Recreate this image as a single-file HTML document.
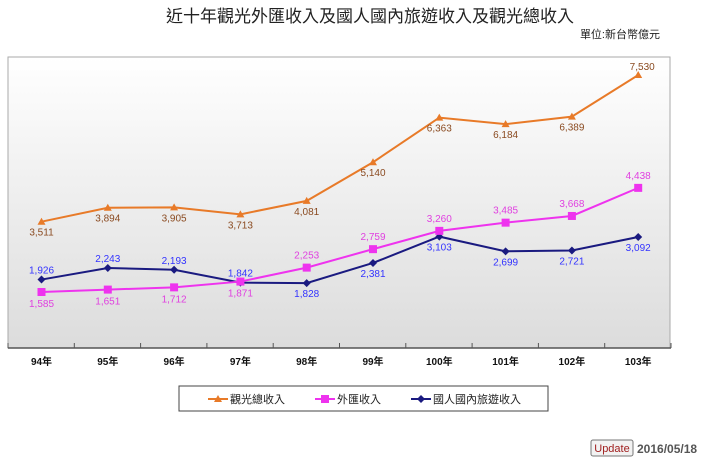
<!DOCTYPE html>
<html><head><meta charset="utf-8"><style>
body{margin:0;width:720px;height:461px;background:#fff;overflow:hidden;font-family:"Liberation Sans","Noto Sans CJK TC",sans-serif}
</style></head><body>
<svg id="s" width="720" height="461" xmlns="http://www.w3.org/2000/svg" font-family="Liberation Sans, Noto Sans CJK TC, sans-serif">
<defs><linearGradient id="g" x1="0" y1="0" x2="0" y2="1"><stop offset="0" stop-color="#ffffff"/><stop offset="1" stop-color="#dcdcdc"/></linearGradient></defs>
<text x="370" y="22" text-anchor="middle" font-size="17" fill="#222">近十年觀光外匯收入及國人國內旅遊收入及觀光總收入</text>
<text x="660" y="38" text-anchor="end" font-size="11" fill="#222">單位:新台幣億元</text>
<rect x="8" y="57" width="662" height="291" fill="url(#g)" stroke="#aaa" stroke-width="1"/>
<line x1="8" y1="348" x2="671" y2="348" stroke="#555" stroke-width="1.5"/>
<g id="ax"></g>
<g id="ser"></g>
<rect x="179" y="386" width="369" height="25" fill="#fff" stroke="#444" stroke-width="1"/>
<line x1="208" y1="399" x2="228" y2="399" stroke="#e87a28" stroke-width="2"/><polygon points="218,395 222,402 214,402" fill="#e87a28"/>
<text x="230" y="403" font-size="11" fill="#222">觀光總收入</text>
<line x1="315" y1="399" x2="335" y2="399" stroke="#ee33ee" stroke-width="2"/><rect x="321" y="395" width="8" height="8" fill="#ee33ee"/>
<text x="337" y="403" font-size="11" fill="#222">外匯收入</text>
<line x1="411" y1="399" x2="431" y2="399" stroke="#1a1a80" stroke-width="2"/><polygon points="421,395 425,399 421,403 417,399" fill="#1a1a80"/>
<text x="433" y="403" font-size="11" fill="#222">國人國內旅遊收入</text>
<rect x="591" y="440" width="42" height="16" rx="2" fill="#f2f2f2" stroke="#777"/>
<text x="612" y="452" text-anchor="middle" font-size="11" fill="#a02020">Update</text>
<text x="637" y="453" font-size="12" font-weight="bold" fill="#555">2016/05/18</text>
</svg>
<script>
var NS="http://www.w3.org/2000/svg";
function el(p,t,a,txt){var e=document.createElementNS(NS,t);for(var k in a)e.setAttribute(k,a[k]);if(txt)e.textContent=txt;p.appendChild(e);return e;}
var ax=document.getElementById('ax'),ser=document.getElementById('ser');
var yrs=['94年','95年','96年','97年','98年','99年','100年','101年','102年','103年'];
function X(i){return 41.5+i*66.3;}
function Y(v){return 292-(v-1585)*0.0365;}
for(var i=0;i<=10;i++){var x=8+i*66.3;el(ax,'line',{x1:x,y1:343,x2:x,y2:348,stroke:'#555'});}
yrs.forEach(function(t,i){el(ax,'text',{x:X(i),y:365,'text-anchor':'middle','font-size':'10','font-weight':'bold',fill:'#111'},t);});
var tot=[3511,3894,3905,3713,4081,5140,6363,6184,6389,7530];
var fx=[1585,1651,1712,1871,2253,2759,3260,3485,3668,4438];
var dm=[1926,2243,2193,1842,1828,2381,3103,2699,2721,3092];
function fmt(v){return v.toString().replace(/\B(?=(\d{3})+$)/,',');}
function line(d,c){el(ser,'polyline',{points:d.map(function(v,i){return X(i)+','+Y(v)}).join(' '),fill:'none',stroke:c,'stroke-width':2});}
line(dm,'#1a1a80');line(fx,'#ee33ee');line(tot,'#e87a28');
dm.forEach(function(v,i){var x=X(i),y=Y(v);el(ser,'polygon',{points:(x)+','+(y-4)+' '+(x+4)+','+y+' '+x+','+(y+4)+' '+(x-4)+','+y,fill:'#1a1a80'});
 var below=(i>=4);el(ser,'text',{x:x,y:below?y+14:y-6,'text-anchor':'middle','font-size':'10',fill:'#3333ff'},fmt(v));});
fx.forEach(function(v,i){var x=X(i),y=Y(v);el(ser,'rect',{x:x-4,y:y-4,width:8,height:8,fill:'#ee33ee'});
 var below=i<4;el(ser,'text',{x:x,y:below?y+15:y-9,'text-anchor':'middle','font-size':'10',fill:'#e040e0'},fmt(v));});
tot.forEach(function(v,i){var x=X(i),y=Y(v);el(ser,'polygon',{points:x+','+(y-4)+' '+(x+4)+','+(y+3)+' '+(x-4)+','+(y+3),fill:'#e87a28'});
 var above=i==9;el(ser,'text',{x:above?x+4:x,y:above?y-5:y+14,'text-anchor':'middle','font-size':'10',fill:'#8a4a20'},fmt(v));});
</script>
</body></html>
